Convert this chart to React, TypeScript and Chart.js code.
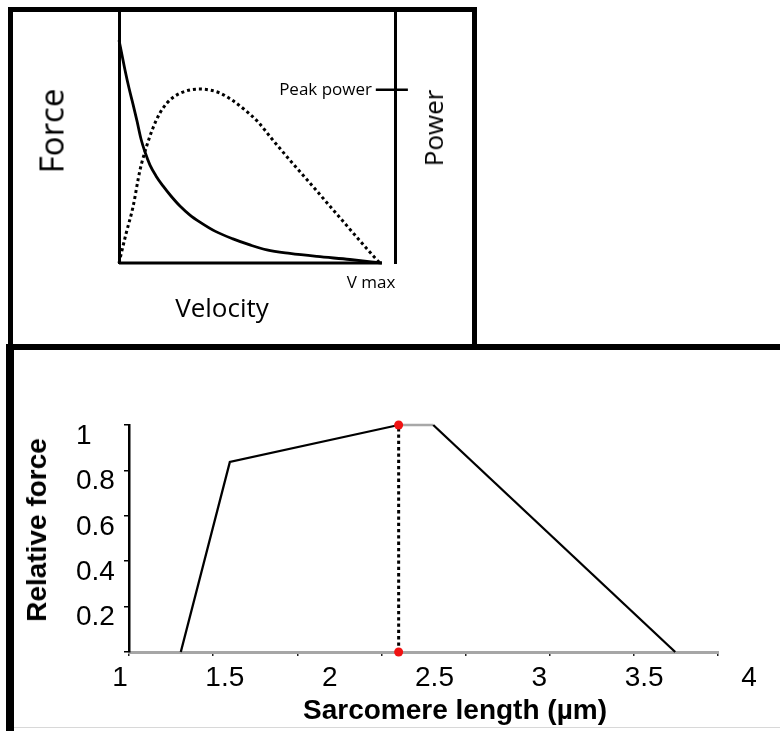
import React, { useEffect, useRef } from 'react';
import { Chart, registerables } from 'chart.js';

Chart.register(...registerables);

// ---------- Top panel: force / power vs velocity ----------
const velocity = [0, 0.0114, 0.0228, 0.038, 0.0532, 0.0684, 0.0837, 0.0989, 0.1179, 0.1407, 0.1673, 0.1977, 0.2319, 0.27, 0.308, 0.365, 0.4335, 0.4981, 0.5627, 0.6502, 0.7529, 0.8783, 1.0];
const force = [0.888, 0.829, 0.769, 0.697, 0.633, 0.566, 0.494, 0.442, 0.39, 0.347, 0.307, 0.267, 0.227, 0.191, 0.163, 0.127, 0.096, 0.072, 0.052, 0.038, 0.026, 0.014, 0];
const powerVelocity = [0, 0.0266, 0.0532, 0.0798, 0.1065, 0.1293, 0.1559, 0.1825, 0.2129, 0.2433, 0.2776, 0.308, 0.346, 0.384, 0.43, 0.479, 0.529, 0.582, 0.65, 0.726, 0.802, 0.878, 0.947, 0.992];
const power = [0, 0.116, 0.223, 0.37, 0.47, 0.538, 0.598, 0.637, 0.665, 0.681, 0.691, 0.693, 0.689, 0.677, 0.649, 0.61, 0.562, 0.494, 0.41, 0.319, 0.227, 0.135, 0.052, 0];
const velocityBaseline = [0, 1];
const peakPower = 0.69;
const peakMarkerVelocity = [0.977, 1.099];
const velocityAxisMax = 1.05;

const forceLabel = 'Force';
const powerLabel = 'Power';
const velocityLabel = 'Velocity';
const vmaxLabel = 'V max';
const peakPowerLabel = 'Peak power';

// ---------- Bottom panel: length-tension ----------
const sarcomereLength = [1.29, 1.524, 2.329, 2.494, 3.648];
const relativeForce = [0, 0.837, 1, 1, 0];
const optimalLength = 2.329;
const optimalMarks = [0, 1];
const xTickValues = [1, 1.5, 2, 2.5, 3, 3.5, 4];
const xAxisStart = 1.043;
const xAxisEnd = 3.852;
const minorTickCount = 7;
const yStep = 0.2;
const xTitle = 'Sarcomere length (\u00b5m)';
const yTitle = 'Relative force';

const zeroSize = (s: any) => {
  if (s.isHorizontal()) s.height = 0;
  else s.width = 0;
};

const hidden = {
  grid: { display: false, drawTicks: false },
  ticks: { display: false },
};

function Label(props: {
  x: number; y: number; size: number; text: string; family: string;
  rotate?: boolean; bold?: boolean; anchor?: 'center' | 'right';
}) {
  const { x, y, size, text, family, rotate, bold, anchor } = props;
  const tx = anchor === 'right' ? '-100%' : '-50%';
  return (
    <div
      style={{
        position: 'absolute', left: x, top: y,
        transform: `translate(${tx},-50%)${rotate ? ' rotate(-90deg)' : ''}`,
        fontFamily: family, fontSize: size, fontWeight: bold ? 'bold' : 'normal',
        lineHeight: 1, whiteSpace: 'nowrap', color: '#000',
      }}
    >
      {text}
    </div>
  );
}

export default function App() {
  const topRef = useRef<HTMLCanvasElement>(null);
  const botRef = useRef<HTMLCanvasElement>(null);

  useEffect(() => {
    const top = new Chart(topRef.current as HTMLCanvasElement, {
      type: 'line',
      data: {
        datasets: [
          {
            data: peakMarkerVelocity.map((v) => ({ x: v, y: peakPower })),
            borderColor: '#000', borderWidth: 2.5, pointRadius: 0, clip: false as any,
          },
          {
            data: velocity.map((v, i) => ({ x: v, y: force[i] })),
            borderColor: '#000', borderWidth: 2.8, pointRadius: 0,
            cubicInterpolationMode: 'monotone', clip: false as any,
          },
          {
            data: powerVelocity.map((v, i) => ({ x: v, y: power[i] })),
            borderColor: '#000', borderWidth: 3, borderDash: [3, 3], borderCapStyle: 'butt',
            pointRadius: 0, cubicInterpolationMode: 'monotone', clip: false as any,
          },
          {
            data: velocityBaseline.map((v) => ({ x: v, y: 0 })),
            borderColor: '#000', borderWidth: 3, pointRadius: 0, clip: false as any,
          },
        ],
      },
      options: {
        responsive: false,
        animation: false,
        events: [],
        layout: { padding: { left: 119, top: 12, right: 385, bottom: 468 } },
        plugins: { legend: { display: false }, tooltip: { enabled: false } },
        scales: {
          x: {
            type: 'linear', min: 0, max: velocityAxisMax, ...hidden,
            border: { display: false }, afterFit: zeroSize,
          },
          y: {
            type: 'linear', min: 0, max: 1, position: 'left', ...hidden,
            border: { display: true, color: '#000', width: 3 }, afterFit: zeroSize,
          },
          y2: {
            type: 'linear', min: 0, max: 1, position: 'right', ...hidden,
            border: { display: true, color: '#000', width: 3 }, afterFit: zeroSize,
          },
        },
      } as any,
    });

    const tickFont = { family: '"Liberation Sans", Arial, sans-serif', size: 28 };
    const bottom = new Chart(botRef.current as HTMLCanvasElement, {
      type: 'line',
      data: {
        datasets: [
          {
            type: 'scatter', xAxisID: 'x', yAxisID: 'y',
            data: optimalMarks.map((f) => ({ x: optimalLength, y: f })),
            pointRadius: 4.5, pointBackgroundColor: '#f01212', pointBorderWidth: 0,
            showLine: false, clip: false as any,
          } as any,
          {
            xAxisID: 'x', yAxisID: 'y',
            data: optimalMarks.map((f) => ({ x: optimalLength, y: f })),
            borderColor: '#000', borderWidth: 3, borderDash: [3.3, 3], borderCapStyle: 'butt',
            pointRadius: 0, clip: false as any,
          },
          {
            xAxisID: 'x', yAxisID: 'y',
            data: sarcomereLength.map((l, i) => ({ x: l, y: relativeForce[i] })),
            borderColor: '#000', borderWidth: 2.3, pointRadius: 0, clip: false as any,
            segment: {
              borderColor: (ctx: any) => (ctx.p0DataIndex === 2 ? '#a8a8a8' : '#000'),
            },
          },
        ],
      },
      options: {
        responsive: false,
        animation: false,
        events: [],
        layout: { padding: { left: 76, top: 425, right: 62, bottom: 29 } },
        plugins: { legend: { display: false }, tooltip: { enabled: false } },
        scales: {
          x: {
            type: 'linear', min: xAxisStart, max: xAxisEnd, position: 'bottom', weight: 0,
            afterBuildTicks: (s: any) => { s.ticks = xTickValues.map((value) => ({ value })); },
            ticks: {
              autoSkip: false, maxRotation: 0, minRotation: 0, padding: 9,
              font: tickFont, color: '#000',
              callback: (v: any) => String(v),
            },
            grid: { display: false, drawTicks: false },
            border: { display: true, color: '#a6a6a6', width: 3 },
            afterFit: (s: any) => { s.height = 50; },
          },
          xt: {
            type: 'linear', min: 0, max: minorTickCount, position: 'bottom', weight: -1,
            ticks: { display: false, stepSize: 1 },
            grid: { display: true, drawOnChartArea: false, drawTicks: true, tickLength: 4, color: '#222', lineWidth: 1.5 },
            border: { display: false },
            afterFit: (s: any) => { s.height = 0; },
          },
          y: {
            type: 'linear', min: 0, max: 1, position: 'left',
            ticks: {
              stepSize: yStep, crossAlign: 'far', labelOffset: 11, padding: 4,
              font: tickFont, color: '#000',
              callback: (v: any) => (v === 0 ? '' : String(Math.round(v * 10) / 10)),
            },
            grid: { display: true, drawOnChartArea: false, drawTicks: true, tickLength: 5, color: '#000', lineWidth: 1.5 },
            border: { display: true, color: '#000', width: 2.5 },
            afterFit: (s: any) => { s.width = 53; },
          },
        },
      } as any,
    });

    return () => {
      top.destroy();
      bottom.destroy();
    };
  }, []);

  const sans = '"Open Sans", "DejaVu Sans", sans-serif';
  const arial = '"Liberation Sans", Arial, sans-serif';

  return (
    <div style={{ position: 'fixed', left: 0, top: 0, width: 780, height: 731, background: '#fff', overflow: 'hidden' }}>
      {/* top panel frame */}
      <div style={{ position: 'absolute', left: 8, top: 7, width: 469, height: 343, border: '5px solid #000', boxSizing: 'border-box' }} />
      {/* bottom panel frame */}
      <div style={{ position: 'absolute', left: 6, top: 344, width: 774, height: 6, background: '#000' }} />
      <div style={{ position: 'absolute', left: 6, top: 344, width: 8, height: 387, background: '#000' }} />
      <div style={{ position: 'absolute', left: 14, top: 727, width: 766, height: 1, background: '#d8d8d8' }} />

      <canvas ref={topRef} width={780} height={731} style={{ position: 'absolute', left: 0, top: 0, width: 780, height: 731 }} />
      <canvas ref={botRef} width={780} height={731} style={{ position: 'absolute', left: 0, top: 0, width: 780, height: 731 }} />

      <Label x={51} y={131} size={33} text={forceLabel} family={sans} rotate />
      <Label x={433} y={128} size={26} text={powerLabel} family={sans} rotate />
      <Label x={222} y={307} size={26} text={velocityLabel} family={sans} />
      <Label x={371} y={281} size={17} text={vmaxLabel} family={sans} />
      <Label x={372} y={88} size={17} text={peakPowerLabel} family={sans} anchor="right" />

      <Label x={37} y={530} size={28} text={yTitle} family={arial} rotate bold />
      <Label x={455} y={710} size={28} text={xTitle} family={arial} bold />
    </div>
  );
}
